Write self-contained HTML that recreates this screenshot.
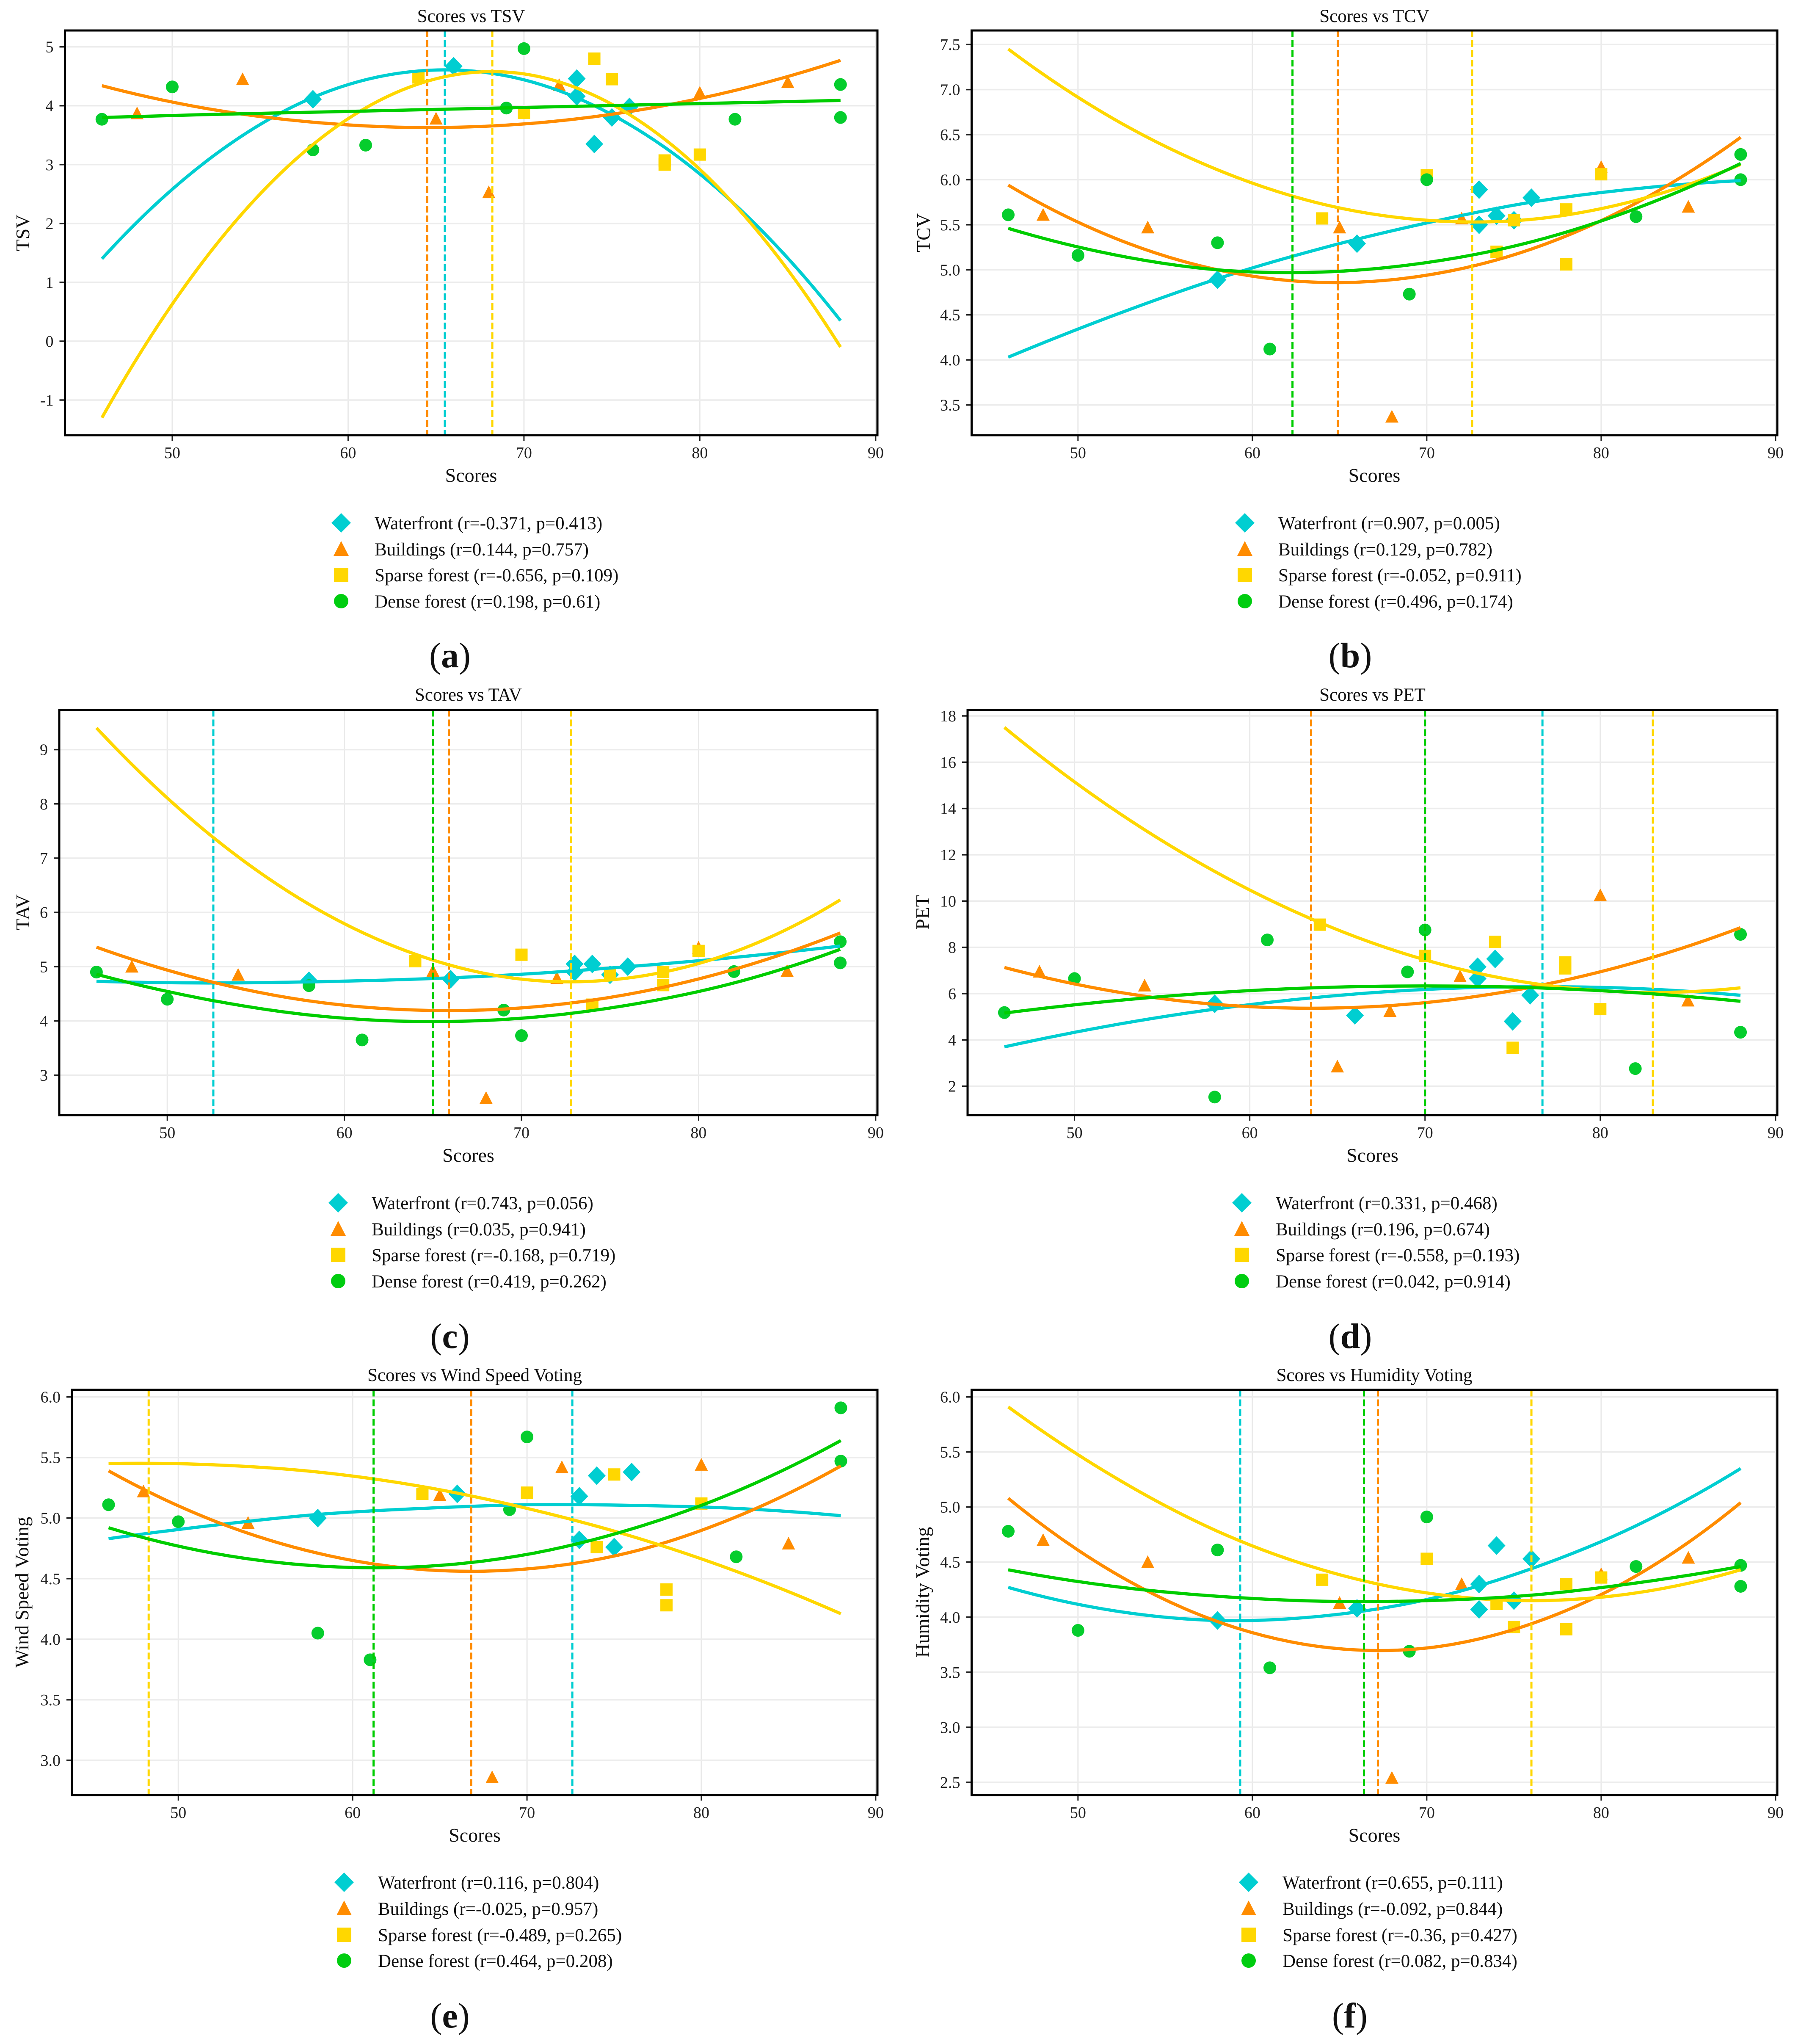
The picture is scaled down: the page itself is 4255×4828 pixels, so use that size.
<!DOCTYPE html>
<html lang="en">
<head>
<meta charset="utf-8">
<title>Scores vs thermal, wind and humidity voting</title>
<style>
html,body{margin:0;padding:0;background:#fff;}
svg{display:block;font-family:"Liberation Serif","Times New Roman",serif;fill:#111;}
.title{font-size:43px;text-anchor:middle;}
.axis-label{font-size:46px;text-anchor:middle;}
.legend-text{font-size:43px;}
.tick-label{font-size:38px;fill:#222;}
.panel-letter{font-size:84px;text-anchor:middle;}
.frame{fill:none;stroke:#000;stroke-width:5;}
</style>
</head>
<body>
<svg xmlns="http://www.w3.org/2000/svg" width="4255" height="4828" viewBox="0 0 4255 4828">
<rect x="0" y="0" width="4255" height="4828" fill="#fff"/>

<!-- Panel a -->
<g id="plot-tsv"></g>
<rect class="frame" x="153.5" y="72" width="1919.5" height="956"/>
<text class="title" x="1113" y="52">Scores vs TSV</text>
<text class="axis-label" x="1113" y="1138">Scores</text>
<text class="axis-label" x="69" y="550" transform="rotate(-90 69 550)">TSV</text>
<g>
<g transform="translate(806,1250)"><polygon points="0,-38 23,-15 0,8 -23,-15" fill="#00CED1"/><text class="legend-text" x="79">Waterfront (r=-0.371, p=0.413)</text></g>
<g transform="translate(806,1312)"><polygon points="0,-34 18,1 -18,1" fill="#FF8C00"/><text class="legend-text" x="79">Buildings (r=0.144, p=0.757)</text></g>
<g transform="translate(806,1373)"><rect x="-17" y="-32" width="34" height="34" fill="#FFD700"/><text class="legend-text" x="79">Sparse forest (r=-0.656, p=0.109)</text></g>
<g transform="translate(806,1435)"><circle cx="0" cy="-15" r="17" fill="#00CD10"/><text class="legend-text" x="79">Dense forest (r=0.198, p=0.61)</text></g>
</g>
<text class="panel-letter" x="1063" y="1576">(<tspan font-weight="bold">a</tspan>)</text>

<!-- Panel b -->
<g id="plot-tcv"></g>
<rect class="frame" x="2295.5" y="72" width="1903.5" height="956"/>
<text class="title" x="3247" y="52">Scores vs TCV</text>
<text class="axis-label" x="3247" y="1138">Scores</text>
<text class="axis-label" x="2197" y="550" transform="rotate(-90 2197 550)">TCV</text>
<g>
<g transform="translate(2941,1250)"><polygon points="0,-38 23,-15 0,8 -23,-15" fill="#00CED1"/><text class="legend-text" x="79">Waterfront (r=0.907, p=0.005)</text></g>
<g transform="translate(2941,1312)"><polygon points="0,-34 18,1 -18,1" fill="#FF8C00"/><text class="legend-text" x="79">Buildings (r=0.129, p=0.782)</text></g>
<g transform="translate(2941,1373)"><rect x="-17" y="-32" width="34" height="34" fill="#FFD700"/><text class="legend-text" x="79">Sparse forest (r=-0.052, p=0.911)</text></g>
<g transform="translate(2941,1435)"><circle cx="0" cy="-15" r="17" fill="#00CD10"/><text class="legend-text" x="79">Dense forest (r=0.496, p=0.174)</text></g>
</g>
<text class="panel-letter" x="3190" y="1576">(<tspan font-weight="bold">b</tspan>)</text>

<!-- Panel c -->
<g id="plot-tav"></g>
<rect class="frame" x="140" y="1676.5" width="1933" height="957.5"/>
<text class="title" x="1106.5" y="1655">Scores vs TAV</text>
<text class="axis-label" x="1106.5" y="2744">Scores</text>
<text class="axis-label" x="69" y="2155" transform="rotate(-90 69 2155)">TAV</text>
<g>
<g transform="translate(799,2856)"><polygon points="0,-38 23,-15 0,8 -23,-15" fill="#00CED1"/><text class="legend-text" x="79">Waterfront (r=0.743, p=0.056)</text></g>
<g transform="translate(799,2918)"><polygon points="0,-34 18,1 -18,1" fill="#FF8C00"/><text class="legend-text" x="79">Buildings (r=0.035, p=0.941)</text></g>
<g transform="translate(799,2979)"><rect x="-17" y="-32" width="34" height="34" fill="#FFD700"/><text class="legend-text" x="79">Sparse forest (r=-0.168, p=0.719)</text></g>
<g transform="translate(799,3041)"><circle cx="0" cy="-15" r="17" fill="#00CD10"/><text class="legend-text" x="79">Dense forest (r=0.419, p=0.262)</text></g>
</g>
<text class="panel-letter" x="1063" y="3184">(<tspan font-weight="bold">c</tspan>)</text>

<!-- Panel d -->
<g id="plot-pet"></g>
<rect class="frame" x="2286" y="1676.5" width="1913" height="957.5"/>
<text class="title" x="3242.5" y="1655">Scores vs PET</text>
<text class="axis-label" x="3242.5" y="2744">Scores</text>
<text class="axis-label" x="2195" y="2155" transform="rotate(-90 2195 2155)">PET</text>
<g>
<g transform="translate(2934,2856)"><polygon points="0,-38 23,-15 0,8 -23,-15" fill="#00CED1"/><text class="legend-text" x="80">Waterfront (r=0.331, p=0.468)</text></g>
<g transform="translate(2934,2918)"><polygon points="0,-34 18,1 -18,1" fill="#FF8C00"/><text class="legend-text" x="80">Buildings (r=0.196, p=0.674)</text></g>
<g transform="translate(2934,2979)"><rect x="-17" y="-32" width="34" height="34" fill="#FFD700"/><text class="legend-text" x="80">Sparse forest (r=-0.558, p=0.193)</text></g>
<g transform="translate(2934,3041)"><circle cx="0" cy="-15" r="17" fill="#00CD10"/><text class="legend-text" x="80">Dense forest (r=0.042, p=0.914)</text></g>
</g>
<text class="panel-letter" x="3190" y="3184">(<tspan font-weight="bold">d</tspan>)</text>

<!-- Panel e -->
<g id="plot-wind"></g>
<rect class="frame" x="170" y="3282.5" width="1903" height="957.5"/>
<text class="title" x="1121.5" y="3262">Scores vs Wind Speed Voting</text>
<text class="axis-label" x="1121.5" y="4350">Scores</text>
<text class="axis-label" x="67" y="3761" transform="rotate(-90 67 3761)">Wind Speed Voting</text>
<g>
<g transform="translate(813,4461)"><polygon points="0,-38 23,-15 0,8 -23,-15" fill="#00CED1"/><text class="legend-text" x="80">Waterfront (r=0.116, p=0.804)</text></g>
<g transform="translate(813,4523)"><polygon points="0,-34 18,1 -18,1" fill="#FF8C00"/><text class="legend-text" x="80">Buildings (r=-0.025, p=0.957)</text></g>
<g transform="translate(813,4585)"><rect x="-17" y="-32" width="34" height="34" fill="#FFD700"/><text class="legend-text" x="80">Sparse forest (r=-0.489, p=0.265)</text></g>
<g transform="translate(813,4646)"><circle cx="0" cy="-15" r="17" fill="#00CD10"/><text class="legend-text" x="80">Dense forest (r=0.464, p=0.208)</text></g>
</g>
<text class="panel-letter" x="1063" y="4789">(<tspan font-weight="bold">e</tspan>)</text>

<!-- Panel f -->
<g id="plot-humidity"></g>
<rect class="frame" x="2295.5" y="3282.5" width="1903.5" height="957.5"/>
<text class="title" x="3247" y="3262">Scores vs Humidity Voting</text>
<text class="axis-label" x="3247" y="4350">Scores</text>
<text class="axis-label" x="2195" y="3761" transform="rotate(-90 2195 3761)">Humidity Voting</text>
<g>
<g transform="translate(2950,4461)"><polygon points="0,-38 23,-15 0,8 -23,-15" fill="#00CED1"/><text class="legend-text" x="80">Waterfront (r=0.655, p=0.111)</text></g>
<g transform="translate(2950,4523)"><polygon points="0,-34 18,1 -18,1" fill="#FF8C00"/><text class="legend-text" x="80">Buildings (r=-0.092, p=0.844)</text></g>
<g transform="translate(2950,4585)"><rect x="-17" y="-32" width="34" height="34" fill="#FFD700"/><text class="legend-text" x="80">Sparse forest (r=-0.36, p=0.427)</text></g>
<g transform="translate(2950,4646)"><circle cx="0" cy="-15" r="17" fill="#00CD10"/><text class="legend-text" x="80">Dense forest (r=0.082, p=0.834)</text></g>
</g>
<text class="panel-letter" x="3189" y="4789">(<tspan font-weight="bold">f</tspan>)</text>
</svg>

<script>
// Shared x values (scores)
const waterfrontScores = [58, 66, 73, 73, 74, 75, 76];
const buildingsScores = [48, 54, 65, 68, 72, 80, 85];
const sparseScores = [64, 70, 74, 75, 78, 78, 80];
const denseScores = [46, 50, 58, 61, 69, 70, 82, 88, 88];
const fitScores = [46, 52, 58, 64, 70, 76, 82, 88];
const xTickLabels = ['50', '60', '70', '80', '90'];
const xDomain = [43.9, 90.1];

// (a) TSV
const tsvTicks = ['-1', '0', '1', '2', '3', '4', '5'];
const tsvWaterfront = [4.11, 4.67, 4.46, 4.16, 3.35, 3.80, 3.98];
const tsvBuildings = [3.87, 4.45, 3.78, 2.53, 4.35, 4.22, 4.40];
const tsvSparse = [4.48, 3.88, 4.80, 4.45, 3.07, 3.00, 3.17];
const tsvDense = [3.77, 4.32, 3.25, 3.33, 3.96, 4.97, 3.77, 4.36, 3.80];
const tsvWaterfrontFit = [1.40, 3.07, 4.14, 4.59, 4.44, 3.68, 2.32, 0.35];
const tsvBuildingsFit = [4.34, 3.95, 3.72, 3.63, 3.69, 3.90, 4.26, 4.77];
const tsvSparseFit = [-1.30, 1.45, 3.34, 4.37, 4.54, 3.85, 2.31, -0.10];
const tsvDenseFit = [3.80, 3.85, 3.89, 3.93, 3.97, 4.01, 4.05, 4.09];
const tsvOptima = [65.5, 64.5, 68.2, null];

// (b) TCV
const tcvTicks = ['3.5', '4.0', '4.5', '5.0', '5.5', '6.0', '6.5', '7.0', '7.5'];
const tcvWaterfront = [4.89, 5.29, 5.89, 5.50, 5.60, 5.55, 5.80];
const tcvBuildings = [5.61, 5.47, 5.47, 3.37, 5.57, 6.14, 5.70];
const tcvSparse = [5.57, 6.05, 5.20, 5.55, 5.67, 5.06, 6.06];
const tcvDense = [5.61, 5.16, 5.30, 4.12, 4.73, 6.00, 5.59, 6.28, 6.00];
const tcvWaterfrontFit = [4.03, 4.49, 4.90, 5.24, 5.52, 5.75, 5.90, 5.99];
const tcvBuildingsFit = [5.94, 5.36, 5.00, 4.86, 4.94, 5.23, 5.74, 6.47];
const tcvSparseFit = [7.45, 6.68, 6.11, 5.73, 5.55, 5.56, 5.77, 6.17];
const tcvDenseFit = [5.46, 5.17, 5.00, 4.975, 5.08, 5.31, 5.68, 6.18];
const tcvOptima = [null, 64.9, 72.6, 62.3];

// (c) TAV
const tavTicks = ['3', '4', '5', '6', '7', '8', '9'];
const tavWaterfront = [4.74, 4.77, 5.05, 4.90, 5.05, 4.85, 5.00];
const tavBuildings = [5.00, 4.85, 4.92, 2.58, 4.79, 5.35, 4.92];
const tavSparse = [5.10, 5.22, 4.30, 4.85, 4.90, 4.66, 5.29];
const tavDense = [4.90, 4.40, 4.65, 3.65, 4.20, 3.73, 4.91, 5.46, 5.07];
const tavWaterfrontFit = [4.73, 4.70, 4.72, 4.77, 4.86, 5.00, 5.17, 5.38];
const tavBuildingsFit = [5.36, 4.76, 4.37, 4.20, 4.24, 4.49, 4.95, 5.62];
const tavSparseFit = [9.40, 7.54, 6.15, 5.23, 4.77, 4.79, 5.27, 6.23];
const tavDenseFit = [4.86, 4.41, 4.11, 3.99, 4.05, 4.29, 4.70, 5.32];
const tavOptima = [52.6, 65.9, 72.8, 65.0];

// (d) PET
const petTicks = ['2', '4', '6', '8', '10', '12', '14', '16', '18'];
const petWaterfront = [5.56, 5.06, 7.16, 6.65, 7.50, 4.80, 5.93];
const petBuildings = [6.95, 6.35, 2.85, 5.25, 6.75, 10.25, 5.70];
const petSparse = [8.98, 7.63, 8.24, 3.66, 7.35, 7.09, 5.33];
const petDense = [5.18, 6.65, 1.53, 8.32, 6.94, 8.75, 2.76, 8.56, 4.33];
const petWaterfrontFit = [3.70, 4.61, 5.33, 5.85, 6.18, 6.30, 6.22, 5.93];
const petBuildingsFit = [7.13, 6.13, 5.54, 5.37, 5.61, 6.27, 7.35, 8.85];
const petSparseFit = [17.50, 14.08, 11.28, 9.07, 7.46, 6.46, 6.06, 6.25];
const petDenseFit = [5.16, 5.67, 6.04, 6.26, 6.33, 6.26, 6.04, 5.67];
const petOptima = [76.7, 63.5, 83.0, 70.0];

// (e) Wind Speed Voting
const windTicks = ['3.0', '3.5', '4.0', '4.5', '5.0', '5.5', '6.0'];
const windWaterfront = [5.00, 5.20, 5.18, 4.82, 5.35, 4.76, 5.38];
const windBuildings = [5.22, 4.96, 5.19, 2.86, 5.42, 5.44, 4.79];
const windSparse = [5.20, 5.21, 4.76, 5.36, 4.41, 4.28, 5.12];
const windDense = [5.11, 4.97, 4.05, 3.83, 5.07, 5.67, 4.68, 5.91, 5.47];
const windWaterfrontFit = [4.83, 4.94, 5.03, 5.08, 5.11, 5.105, 5.08, 5.02];
const windBuildingsFit = [5.39, 4.98, 4.71, 4.575, 4.58, 4.72, 5.01, 5.43];
const windSparseFit = [5.45, 5.44, 5.38, 5.26, 5.08, 4.85, 4.56, 4.21];
const windDenseFit = [4.92, 4.71, 4.605, 4.60, 4.70, 4.91, 5.22, 5.64];
const windOptima = [72.6, 66.8, 48.3, 61.2];

// (f) Humidity Voting
const humidityTicks = ['2.5', '3.0', '3.5', '4.0', '4.5', '5.0', '5.5', '6.0'];
const humidityWaterfront = [3.97, 4.08, 4.30, 4.07, 4.65, 4.15, 4.53];
const humidityBuildings = [4.70, 4.50, 4.13, 2.54, 4.30, 4.39, 4.54];
const humiditySparse = [4.34, 4.53, 4.12, 3.91, 4.30, 3.89, 4.36];
const humidityDense = [4.78, 3.88, 4.61, 3.54, 3.69, 4.91, 4.46, 4.47, 4.28];
const humidityWaterfrontFit = [4.27, 4.06, 3.97, 4.01, 4.16, 4.44, 4.83, 5.35];
const humidityBuildingsFit = [5.08, 4.41, 3.96, 3.73, 3.72, 3.94, 4.375, 5.04];
const humiditySparseFit = [5.91, 5.28, 4.78, 4.43, 4.22, 4.15, 4.22, 4.43];
const humidityDenseFit = [4.43, 4.28, 4.19, 4.145, 4.15, 4.20, 4.31, 4.46];
const humidityOptima = [59.3, 67.2, 76.0, 66.4];

const SVG_NS = 'http://www.w3.org/2000/svg';
const seriesInfo = [
  { slug: 'waterfront', color: '#00CED1', lineColor: '#00CED1', marker: 'diamond', scores: waterfrontScores },
  { slug: 'buildings', color: '#FF8C00', lineColor: '#FF8C00', marker: 'triangle', scores: buildingsScores },
  { slug: 'sparse-forest', color: '#FFD700', lineColor: '#FFD700', marker: 'square', scores: sparseScores },
  { slug: 'dense-forest', color: '#05CD2D', lineColor: '#00CD00', marker: 'circle', scores: denseScores }
];

function make(tag, parent) {
  const el = document.createElementNS(SVG_NS, tag);
  parent.appendChild(el);
  return el;
}

function markerShape(parent, kind, cx, cy, color) {
  let el;
  if (kind === 'circle') {
    el = make('circle', parent);
    el.setAttribute('cx', cx);
    el.setAttribute('cy', cy);
    el.setAttribute('r', 15);
  } else if (kind === 'square') {
    el = make('rect', parent);
    el.setAttribute('x', cx - 14.5);
    el.setAttribute('y', cy - 14.5);
    el.setAttribute('width', 29);
    el.setAttribute('height', 29);
  } else if (kind === 'triangle') {
    el = make('polygon', parent);
    el.setAttribute('points', `${cx},${cy - 16} ${cx + 15.5},${cy + 14} ${cx - 15.5},${cy + 14}`);
  } else {
    el = make('polygon', parent);
    el.setAttribute('points', `${cx},${cy - 22} ${cx + 21},${cy} ${cx},${cy + 22} ${cx - 21},${cy}`);
  }
  el.setAttribute('fill', color);
  return el;
}

function smoothPath(px, py) {
  const n = px.length;
  const ext = (arr, i) => i < 0 ? 3 * arr[0] - 3 * arr[1] + arr[2]
    : i >= n ? 3 * arr[n - 1] - 3 * arr[n - 2] + arr[n - 3] : arr[i];
  let d = `M${px[0].toFixed(1)},${py[0].toFixed(1)}`;
  for (let i = 0; i < n - 1; i++) {
    const c1x = px[i] + (ext(px, i + 1) - ext(px, i - 1)) / 6;
    const c1y = py[i] + (ext(py, i + 1) - ext(py, i - 1)) / 6;
    const c2x = px[i + 1] - (ext(px, i + 2) - ext(px, i)) / 6;
    const c2y = py[i + 1] - (ext(py, i + 2) - ext(py, i)) / 6;
    d += `C${c1x.toFixed(1)},${c1y.toFixed(1)} ${c2x.toFixed(1)},${c2y.toFixed(1)} ${px[i + 1].toFixed(1)},${py[i + 1].toFixed(1)}`;
  }
  return d;
}

function drawPanel(cfg) {
  const root = document.getElementById(cfg.target);
  const xScale = v => cfg.left + (v - xDomain[0]) / (xDomain[1] - xDomain[0]) * (cfg.right - cfg.left);
  const yScale = v => cfg.bottom - (v - cfg.yMin) / (cfg.yMax - cfg.yMin) * (cfg.bottom - cfg.top);

  xTickLabels.forEach(label => {
    const px = xScale(parseFloat(label));
    const grid = make('line', root);
    
    
    grid.setAttribute('x1', px);
    grid.setAttribute('x2', px);
    grid.setAttribute('y1', cfg.top);
    grid.setAttribute('y2', cfg.bottom);
    grid.setAttribute('stroke', '#e9e9e9');
    grid.setAttribute('stroke-width', 3);
    const tick = make('line', root);
    
    
    tick.setAttribute('x1', px);
    tick.setAttribute('x2', px);
    tick.setAttribute('y1', cfg.bottom);
    tick.setAttribute('y2', cfg.bottom + 13);
    tick.setAttribute('stroke', '#222');
    tick.setAttribute('stroke-width', 3);
    const text = make('text', root);
    
    
    text.setAttribute('class', 'tick-label');
    text.setAttribute('x', px);
    text.setAttribute('y', cfg.bottom + 54);
    text.setAttribute('text-anchor', 'middle');
    text.textContent = label;
  });

  cfg.yTicks.forEach(label => {
    const py = yScale(parseFloat(label));
    const grid = make('line', root);
    
    
    grid.setAttribute('x1', cfg.left);
    grid.setAttribute('x2', cfg.right);
    grid.setAttribute('y1', py);
    grid.setAttribute('y2', py);
    grid.setAttribute('stroke', '#ececec');
    grid.setAttribute('stroke-width', 3.5);
    const tick = make('line', root);
    
    
    tick.setAttribute('x1', cfg.left - 13);
    tick.setAttribute('x2', cfg.left);
    tick.setAttribute('y1', py);
    tick.setAttribute('y2', py);
    tick.setAttribute('stroke', '#222');
    tick.setAttribute('stroke-width', 3.5);
    const text = make('text', root);
    
    
    text.setAttribute('class', 'tick-label');
    text.setAttribute('x', cfg.left - 27);
    text.setAttribute('y', py + 13);
    text.setAttribute('text-anchor', 'end');
    text.textContent = label;
  });

  seriesInfo.forEach((series, s) => {
    series.scores.forEach((score, i) => {
      const value = cfg.points[s][i];
      const mark = markerShape(root, series.marker, xScale(score), yScale(value), series.color);
      
      
    });
  });

  seriesInfo.forEach((series, s) => {
    const line = make('path', root);
    
    
    line.setAttribute('d', smoothPath(fitScores.map(xScale), cfg.fits[s].map(yScale)));
    line.setAttribute('fill', 'none');
    line.setAttribute('stroke', series.lineColor);
    line.setAttribute('stroke-width', 7.5);
    if (cfg.optima[s] !== null) {
      const px = xScale(cfg.optima[s]);
      const dash = make('line', root);
      
      
      dash.setAttribute('x1', px);
      dash.setAttribute('x2', px);
      dash.setAttribute('y1', cfg.top);
      dash.setAttribute('y2', cfg.bottom);
      dash.setAttribute('stroke', series.lineColor);
      dash.setAttribute('stroke-width', 5);
      dash.setAttribute('stroke-dasharray', '16 7');
    }
  });
}

drawPanel({ key: 'tsv', target: 'plot-tsv', left: 153.5, right: 2073, top: 72, bottom: 1028, yMin: -1.597, yMax: 5.278, yTicks: tsvTicks,
  points: [tsvWaterfront, tsvBuildings, tsvSparse, tsvDense],
  fits: [tsvWaterfrontFit, tsvBuildingsFit, tsvSparseFit, tsvDenseFit], optima: tsvOptima });
drawPanel({ key: 'tcv', target: 'plot-tcv', left: 2295.5, right: 4199, top: 72, bottom: 1028, yMin: 3.164, yMax: 7.656, yTicks: tcvTicks,
  points: [tcvWaterfront, tcvBuildings, tcvSparse, tcvDense],
  fits: [tcvWaterfrontFit, tcvBuildingsFit, tcvSparseFit, tcvDenseFit], optima: tcvOptima });
drawPanel({ key: 'tav', target: 'plot-tav', left: 140, right: 2073, top: 1676.5, bottom: 2634, yMin: 2.264, yMax: 9.734, yTicks: tavTicks,
  points: [tavWaterfront, tavBuildings, tavSparse, tavDense],
  fits: [tavWaterfrontFit, tavBuildingsFit, tavSparseFit, tavDenseFit], optima: tavOptima });
drawPanel({ key: 'pet', target: 'plot-pet', left: 2286, right: 4199, top: 1676.5, bottom: 2634, yMin: 0.749, yMax: 18.265, yTicks: petTicks,
  points: [petWaterfront, petBuildings, petSparse, petDense],
  fits: [petWaterfrontFit, petBuildingsFit, petSparseFit, petDenseFit], optima: petOptima });
drawPanel({ key: 'wind-speed', target: 'plot-wind', left: 170, right: 2073, top: 3282.5, bottom: 4240, yMin: 2.713, yMax: 6.06, yTicks: windTicks,
  points: [windWaterfront, windBuildings, windSparse, windDense],
  fits: [windWaterfrontFit, windBuildingsFit, windSparseFit, windDenseFit], optima: windOptima });
drawPanel({ key: 'humidity', target: 'plot-humidity', left: 2295.5, right: 4199, top: 3282.5, bottom: 4240, yMin: 2.384, yMax: 6.066, yTicks: humidityTicks,
  points: [humidityWaterfront, humidityBuildings, humiditySparse, humidityDense],
  fits: [humidityWaterfrontFit, humidityBuildingsFit, humiditySparseFit, humidityDenseFit], optima: humidityOptima });
</script>
</body>
</html>
